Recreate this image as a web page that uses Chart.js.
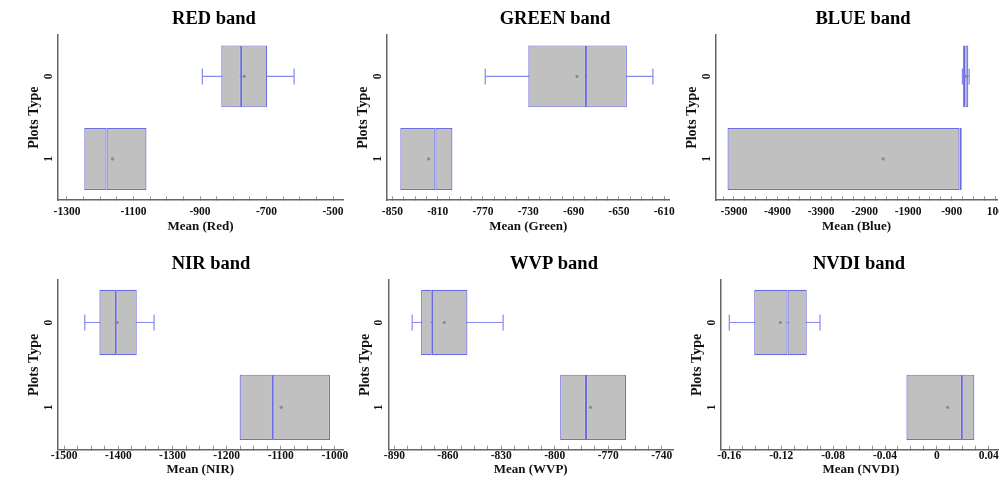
<!DOCTYPE html>
<html>
<head>
<meta charset="utf-8">
<title>Plots Type by band</title>
<script src="https://cdn.jsdelivr.net/npm/chart.js@4.4.1/dist/chart.umd.min.js"></script>
<style>
  html, body { margin: 0; padding: 0; background: #fff; }
  body { position: relative; width: 999px; height: 479px; overflow: hidden; }
  canvas { position: absolute; }
</style>
</head>
<body>
<canvas id="red"></canvas>
<canvas id="green"></canvas>
<canvas id="blue"></canvas>
<canvas id="nir"></canvas>
<canvas id="wvp"></canvas>
<canvas id="nvdi"></canvas>
<script>
// categories on the y axis (top to bottom)
const plotTypes = ['0', '1'];

// every array below is [type 0, type 1]
const redLow = [-893, -1248];
const redQ1 = [-836, -1248];
const redMedian = [-777, -1181];
const redQ3 = [-698, -1061];
const redHigh = [-617, -1061];
const redMean = [-767, -1163];
const redTicks = [-1300, -1100, -900, -700, -500];
const redRange = [-1327, -470];

const greenLow = [-768, -843];
const greenQ1 = [-730, -843];
const greenMedian = [-679, -812];
const greenQ3 = [-643, -797];
const greenHigh = [-620, -797];
const greenMean = [-687, -818];
const greenTicks = [-850, -810, -770, -730, -690, -650, -610];
const greenRange = [-855, -605];

const blueLow = [-655, -6049];
const blueQ1 = [-640, -6049];
const blueMedian = [-585, -722];
const blueQ3 = [-520, -670];
const blueHigh = [-500, -670];
const blueMean = [-580, -2476];
const blueTicks = [-5900, -4900, -3900, -2900, -1900, -900, 100];
const blueRange = [-6313, 143];

const nirLow = [-1462, -1176];
const nirQ1 = [-1435, -1176];
const nirMedian = [-1404, -1114];
const nirQ3 = [-1366, -1009];
const nirHigh = [-1334, -1009];
const nirMean = [-1402, -1099];
const nirTicks = [-1500, -1400, -1300, -1200, -1100, -1000];
const nirRange = [-1512, -985];

const wvpLow = [-880, -797];
const wvpQ1 = [-875, -797];
const wvpMedian = [-869, -782.5];
const wvpQ3 = [-849, -760];
const wvpHigh = [-829, -760];
const wvpMean = [-862, -780];
const wvpTicks = [-890, -860, -830, -800, -770, -740];
const wvpRange = [-893.4, -733.7];

const nvdiLow = [-0.160, -0.0235];
const nvdiQ1 = [-0.1408, -0.0235];
const nvdiMedian = [-0.1151, 0.0194];
const nvdiQ3 = [-0.1003, 0.0289];
const nvdiHigh = [-0.0901, 0.0289];
const nvdiMean = [-0.1207, 0.0083];
const nvdiTicks = [-0.16, -0.12, -0.08, -0.04, 0, 0.04];
const nvdiRange = [-0.1664, 0.0494];

const bands = [
  {id: 'red', title: 'RED band', axis: 'Mean (Red)', low: redLow, q1: redQ1, median: redMedian, q3: redQ3, high: redHigh, mean: redMean, ticks: redTicks, range: redRange},
  {id: 'green', title: 'GREEN band', axis: 'Mean (Green)', low: greenLow, q1: greenQ1, median: greenMedian, q3: greenQ3, high: greenHigh, mean: greenMean, ticks: greenTicks, range: greenRange},
  {id: 'blue', title: 'BLUE band', axis: 'Mean (Blue)', low: blueLow, q1: blueQ1, median: blueMedian, q3: blueQ3, high: blueHigh, mean: blueMean, ticks: blueTicks, range: blueRange},
  {id: 'nir', title: 'NIR band', axis: 'Mean (NIR)', low: nirLow, q1: nirQ1, median: nirMedian, q3: nirQ3, high: nirHigh, mean: nirMean, ticks: nirTicks, range: nirRange},
  {id: 'wvp', title: 'WVP band', axis: 'Mean (WVP)', low: wvpLow, q1: wvpQ1, median: wvpMedian, q3: wvpQ3, high: wvpHigh, mean: wvpMean, ticks: wvpTicks, range: wvpRange},
  {id: 'nvdi', title: 'NVDI band', axis: 'Mean (NVDI)', low: nvdiLow, q1: nvdiQ1, median: nvdiMedian, q3: nvdiQ3, high: nvdiHigh, mean: nvdiMean, ticks: nvdiTicks, range: nvdiRange}
];

// page placement of each panel
const panels = {
  red:   {left: 0,   top: 0,   height: 234, axisX: 57,    plotRight: 343,  titleX: 214, row: 0},
  green: {left: 329, top: 0,   height: 234, axisX: 385.7, plotRight: 671.7, titleX: 555, row: 0},
  blue:  {left: 658, top: 0,   height: 234, axisX: 715,   plotRight: 1001, titleX: 863, row: 0},
  nir:   {left: 0,   top: 245, height: 232, axisX: 56.7,  plotRight: 343,  titleX: 211, row: 1},
  wvp:   {left: 329, top: 245, height: 232, axisX: 387.3, plotRight: 673,  titleX: 554, row: 1},
  nvdi:  {left: 658, top: 245, height: 232, axisX: 720,   plotRight: 1001, titleX: 859, row: 1}
};
const rowStyle = [
  {tickPad: 9, axisTitleTop: -9.6},
  {tickPad: 3.6, axisTitleTop: -5.3}
];

const serif = "'Liberation Serif', 'Times New Roman', serif";
const boxFill = '#c0c0c0';
const boxLine = '#6b6be2';
const whiskerLine = '#8888f2';
const meanColor = '#8a8a8a';
const yAxisWidth = 37.6;

// moves the chart title to a given x centre
const titleShift = {
  id: 'titleShift',
  afterLayout(chart, args, opts) {
    const t = chart.titleBlock;
    if (!t || opts.centerX === undefined) return;
    const dx = opts.centerX - (t.left + t.right) / 2;
    t.left += dx;
    t.right += dx;
  }
};

function drawBand(band) {
  const p = panels[band.id];
  const rs = rowStyle[p.row];
  const canvas = document.getElementById(band.id);
  const width = Math.round(p.plotRight - p.left + 12);
  canvas.width = width;
  canvas.height = p.height;
  canvas.style.left = p.left + 'px';
  canvas.style.top = p.top + 'px';

  const [min, max] = band.range;
  const step = (band.ticks[1] - band.ticks[0]) / 4;
  let start = band.ticks[0];
  while (start - step >= min - step * 1e-6) start -= step;
  const tickValues = [];
  for (let v = start; v <= max + step * 1e-6; v += step) tickValues.push(Math.round(v * 1e6) / 1e6);

  // whiskers only where they reach past the box
  const whiskers = plotTypes
    .map((c, i) => i)
    .filter(i => band.low[i] < band.q1[i] || band.high[i] > band.q3[i])
    .map(i => ({
      type: 'line',
      order: 3,
      data: [{x: band.low[i], y: plotTypes[i]}, {x: band.high[i], y: plotTypes[i]}],
      borderColor: whiskerLine,
      borderWidth: 1.2,
      pointStyle: 'line',
      pointRotation: 90,
      pointRadius: 8,
      pointBorderColor: whiskerLine,
      pointBorderWidth: 1.2
    }));

  const boxStyle = {
    type: 'bar',
    order: 2,
    grouped: false,
    backgroundColor: boxFill,
    borderColor: boxLine,
    borderWidth: 1.2,
    borderSkipped: false,
    barPercentage: p.row === 0 ? 0.75 : 0.77,
    categoryPercentage: 1
  };

  new Chart(canvas, {
    data: {
      labels: plotTypes,
      datasets: [
        Object.assign({data: plotTypes.map((c, i) => [band.q1[i], band.median[i]])}, boxStyle),
        Object.assign({data: plotTypes.map((c, i) => [band.median[i], band.q3[i]])}, boxStyle),
        ...whiskers,
        {
          type: 'line',
          order: 1,
          showLine: false,
          data: plotTypes.map((c, i) => ({x: band.mean[i], y: c})),
          pointRadius: 1.6,
          pointBackgroundColor: meanColor,
          pointBorderWidth: 0
        }
      ]
    },
    options: {
      indexAxis: 'y',
      responsive: false,
      animation: false,
      events: [],
      layout: {padding: {left: p.axisX - p.left - yAxisWidth, right: 12, top: 0, bottom: 0}},
      plugins: {
        legend: {display: false},
        tooltip: {enabled: false},
        title: {
          display: true,
          text: band.title,
          color: '#000',
          font: {family: serif, size: 18.5, weight: 'bold'},
          padding: {top: 7.7, bottom: 5.2}
        },
        titleShift: {centerX: p.titleX - p.left}
      },
      scales: {
        x: {
          type: 'linear',
          min: min,
          max: max,
          afterBuildTicks: axis => { axis.ticks = tickValues.map(v => ({value: v})); },
          ticks: {
            autoSkip: false,
            maxRotation: 0,
            padding: rs.tickPad,
            color: '#111',
            font: {family: serif, size: 11.5, weight: 'bold'},
            callback: value => {
              const m = band.ticks.find(t => Math.abs(t - value) < step / 100);
              return m === undefined ? '' : String(m);
            }
          },
          grid: {drawOnChartArea: false, tickLength: -4, color: '#999', lineWidth: 1},
          border: {color: '#666', width: 1.5},
          title: {
            display: true,
            text: band.axis,
            color: '#111',
            font: {family: serif, size: 13, weight: 'bold'},
            padding: {top: rs.axisTitleTop, bottom: 0}
          }
        },
        y: {
          type: 'category',
          offset: true,
          grid: {display: false, drawTicks: false},
          border: {color: '#666', width: 1.5},
          ticks: {
            minRotation: 90,
            maxRotation: 90,
            crossAlign: 'center',
            padding: 6,
            color: '#111',
            font: {family: serif, size: 11.5, weight: 'bold'}
          },
          title: {
            display: true,
            text: 'Plots Type',
            color: '#111',
            font: {family: serif, size: 14, weight: 'bold'},
            padding: {top: 7, bottom: -11}
          }
        }
      }
    },
    plugins: [titleShift]
  });
}

bands.forEach(drawBand);
</script>
</body>
</html>
